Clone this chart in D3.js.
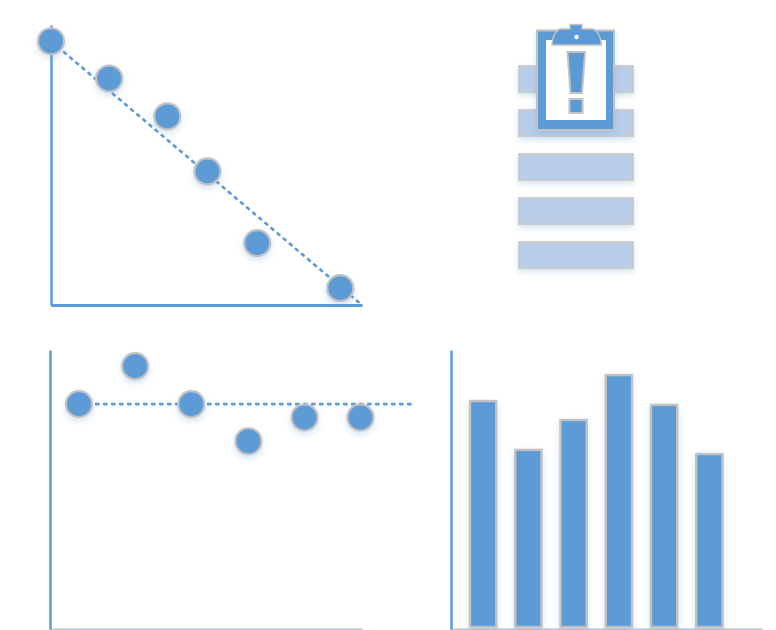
<!DOCTYPE html>
<html>
<head>
<meta charset="utf-8">
<script src="https://cdn.jsdelivr.net/npm/d3@7"></script>
<style>
html, body { margin: 0; padding: 0; background: white; }
svg { display: block; }
</style>
</head>
<body>
<svg></svg>
<script>
// values are in plain 0-100 units
const declineX = [0, 18.7, 37.4, 50.3, 66.3, 93];
const declineY = [94.2, 80.9, 67.4, 47.7, 22.1, 6];
const declineTrend = [[0, 94.2], [100, 0]];

const flatX = [9.3, 27.3, 45.3, 63.6, 81.6, 99.5];
const flatY = [80.6, 94.2, 80.6, 67.3, 75.8, 75.8];
const flatTrend = [[9.3, 80.6], [116, 80.6]];

const barCategories = ["a", "b", "c", "d", "e", "f"];
const barValues = [81.7, 64.2, 74.9, 91, 80.3, 62.7];

const listRows = ["r1", "r2", "r3", "r4", "r5"];

const blue = "#5b9bd5";
const grey = "#c2c2c2";
const w = 776;
const h = 630;

const svg = d3.select("svg").attr("width", w).attr("height", h);

const defs = svg.append("defs");
const shadow = defs.append("filter").attr("id", "shadow")
    .attr("x", "-40%").attr("y", "-40%").attr("width", "180%").attr("height", "180%");
shadow.append("feDropShadow")
    .attr("dx", 0).attr("dy", 3).attr("stdDeviation", 3)
    .attr("flood-color", blue).attr("flood-opacity", 0.28);

function drawAxes(x, y, bottom, left, bottomColor, bottomWidth) {
    const gx = svg.append("g").attr("transform", `translate(0,${bottom})`)
        .call(d3.axisBottom(x).tickValues([]).tickSizeOuter(0));
    gx.select(".domain").attr("stroke", bottomColor).attr("stroke-width", bottomWidth);
    const gy = svg.append("g").attr("transform", `translate(${left},0)`)
        .call(d3.axisLeft(y).tickValues([]).tickSizeOuter(0));
    gy.select(".domain").attr("stroke", blue).attr("stroke-width", 2.6).attr("stroke-opacity", 0.95);
}

function drawScatter(xs, ys, trend, x, y) {
    const line = d3.line().x(d => x(d[0])).y(d => y(d[1]));
    svg.append("path")
        .attr("d", line(trend))
        .attr("fill", "none")
        .attr("stroke", blue)
        .attr("stroke-width", 2.6)
        .attr("stroke-dasharray", "4.5 3.5");
    svg.append("g").selectAll("circle")
        .data(xs.map((d, i) => [d, ys[i]]))
        .join("circle")
        .attr("cx", d => x(d[0]))
        .attr("cy", d => y(d[1]))
        .attr("r", 13)
        .attr("fill", blue)
        .attr("stroke", grey)
        .attr("stroke-width", 2.2)
        .attr("filter", "url(#shadow)");
}

// top left
const x1 = d3.scaleLinear().domain([0, 100]).range([51, 362]);
const y1 = d3.scaleLinear().domain([0, 100]).range([305, 25]);
drawAxes(x1, y1, 305, 51, blue, 2.8);
drawScatter(declineX, declineY, declineTrend, x1, y1);

// bottom left
const x2 = d3.scaleLinear().domain([0, 100]).range([50, 362]);
const y2 = d3.scaleLinear().domain([0, 100]).range([629, 350]);
drawAxes(x2, y2, 629, 50, "#b5c4d6", 2);
drawScatter(flatX, flatY, flatTrend, x2, y2);

// bottom right
const x3 = d3.scaleBand().domain(barCategories).range([460.5, 732]).paddingInner(0.42).paddingOuter(0.21);
const x3Axis = d3.scaleLinear().domain([0, 100]).range([451, 762]);
const y3 = d3.scaleLinear().domain([0, 100]).range([629, 350]);
drawAxes(x3Axis, y3, 629, 451, "#b5c4d6", 2);
svg.append("g").selectAll("rect")
    .data(barValues)
    .join("rect")
    .attr("x", (d, i) => x3(barCategories[i]))
    .attr("y", d => y3(d))
    .attr("width", x3.bandwidth())
    .attr("height", d => 627 - y3(d))
    .attr("fill", blue)
    .attr("stroke", grey)
    .attr("stroke-width", 2.4)
    .attr("filter", "url(#shadow)");

// top right list with clipboard
const yList = d3.scaleBand().domain(listRows).range([66, 268]).paddingInner(0.41).paddingOuter(0);
svg.append("g").selectAll("rect")
    .data(listRows)
    .join("rect")
    .attr("x", 519)
    .attr("y", d => yList(d))
    .attr("width", 114)
    .attr("height", yList.bandwidth())
    .attr("fill", "#b9cde8")
    .attr("stroke", "#cbcbcb")
    .attr("stroke-width", 2)
    .attr("filter", "url(#shadow)");

const icon = svg.append("g").attr("transform", "translate(537,24)");
icon.append("rect")
    .attr("x", 0).attr("y", 6.5).attr("width", 77).attr("height", 99.5)
    .attr("fill", blue).attr("stroke", grey).attr("stroke-width", 2)
    .attr("filter", "url(#shadow)");
icon.append("rect")
    .attr("x", 9).attr("y", 16).attr("width", 60).attr("height", 80)
    .attr("fill", "white");
icon.append("path")
    .attr("d", "M33,5 V0.5 H45 V5 H55 C61,6 64,14 64.5,21 H15 C15.5,14 18,6 24,5 Z")
    .attr("fill", blue).attr("stroke", grey).attr("stroke-width", 1.5);
icon.append("circle")
    .attr("cx", 39.5).attr("cy", 13).attr("r", 2.2)
    .attr("fill", "white");
icon.append("path")
    .attr("d", "M30.5,28 H48 L45,69 H33.5 Z")
    .attr("fill", blue).attr("stroke", grey).attr("stroke-width", 2);
icon.append("rect")
    .attr("x", 32.5).attr("y", 75).attr("width", 13).attr("height", 14)
    .attr("fill", blue).attr("stroke", grey).attr("stroke-width", 2);
</script>
</body>
</html>
